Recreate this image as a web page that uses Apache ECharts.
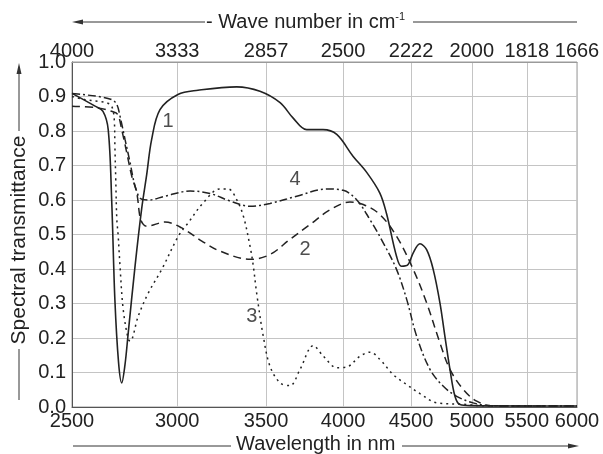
<!DOCTYPE html>
<html>
<head>
<meta charset="utf-8">
<script src="https://cdn.jsdelivr.net/npm/echarts@6/dist/echarts.min.js"></script>
<style>html,body{margin:0;padding:0;background:#fff}#c{width:603px;height:454px}</style>
</head>
<body>
<div id="c"></div>
<script>
// Tick values
const wavelengthTicks = [2500, 3000, 3500, 4000, 4500, 5000, 5500, 6000];
const wavenumberLabels = ['4000', '3333', '2857', '2500', '2222', '2000', '1818', '1666'];
const transmittanceTicks = [0, 0.1, 0.2, 0.3, 0.4, 0.5, 0.6, 0.7, 0.8, 0.9, 1.0];

// Curve 1 (solid)
const curve1Wavelength = [2500, 2602, 2638, 2662, 2678, 2693, 2710, 2725, 2740, 2756, 2789, 2821, 2846, 2870, 2912, 3004, 3110, 3326, 3463, 3586, 3667, 3755, 3863, 3956, 4069, 4167, 4263, 4313, 4388, 4426, 4477, 4517, 4570, 4623, 4676, 4731, 4772, 4814, 4856, 4898, 5000, 5500, 6000];
const curve1Transmittance = [0.909, 0.872, 0.857, 0.804, 0.60, 0.31, 0.13, 0.07, 0.12, 0.215, 0.41, 0.575, 0.675, 0.775, 0.862, 0.906, 0.918, 0.928, 0.915, 0.882, 0.838, 0.804, 0.804, 0.79, 0.727, 0.68, 0.62, 0.56, 0.437, 0.408, 0.413, 0.447, 0.473, 0.456, 0.399, 0.302, 0.205, 0.109, 0.031, 0.007, 0.004, 0.003, 0.003];

// Curve 2 (dashed)
const curve2Wavelength = [2500, 2617, 2678, 2706, 2725, 2749, 2773, 2797, 2813, 2828, 2846, 2937, 3024, 3131, 3231, 3404, 3524, 3648, 3777, 3912, 4048, 4142, 4263, 4388, 4517, 4623, 4731, 4814, 4926, 5042, 5187, 5500, 6000];
const curve2Transmittance = [0.872, 0.867, 0.857, 0.848, 0.804, 0.737, 0.669, 0.621, 0.55, 0.53, 0.524, 0.536, 0.519, 0.481, 0.452, 0.428, 0.442, 0.486, 0.529, 0.572, 0.594, 0.587, 0.558, 0.495, 0.399, 0.302, 0.186, 0.109, 0.051, 0.017, 0.003, 0.003, 0.003];

// Curve 3 (dotted)
const curve3Wavelength = [2500, 2557, 2617, 2655, 2678, 2690, 2693, 2697, 2702, 2708, 2717, 2732, 2756, 2765, 2804, 2854, 2921, 3006, 3058, 3139, 3231, 3278, 3326, 3365, 3404, 3423, 3443, 3483, 3524, 3586, 3648, 3712, 3799, 3866, 3956, 4025, 4118, 4191, 4263, 4363, 4466, 4570, 4705, 4923, 5080, 6000];
const curve3Transmittance = [0.90, 0.891, 0.886, 0.882, 0.872, 0.833, 0.756, 0.66, 0.543, 0.50, 0.408, 0.283, 0.196, 0.191, 0.263, 0.331, 0.399, 0.495, 0.534, 0.592, 0.632, 0.632, 0.601, 0.553, 0.466, 0.41, 0.331, 0.205, 0.118, 0.07, 0.062, 0.109, 0.178, 0.147, 0.114, 0.116, 0.147, 0.159, 0.138, 0.094, 0.065, 0.039, 0.012, 0.008, 0.004, 0.003];

// Curve 4 (dash-dot)
const curve4Wavelength = [2500, 2542, 2617, 2678, 2702, 2717, 2741, 2765, 2789, 2818, 2854, 2937, 3068, 3176, 3288, 3404, 3524, 3691, 3888, 4001, 4096, 4191, 4288, 4388, 4466, 4544, 4650, 4759, 4870, 5010, 5160, 5500, 6000];
const curve4Transmittance = [0.909, 0.906, 0.90, 0.891, 0.877, 0.843, 0.775, 0.708, 0.64, 0.603, 0.60, 0.611, 0.626, 0.619, 0.597, 0.582, 0.59, 0.611, 0.632, 0.628, 0.60, 0.543, 0.476, 0.399, 0.312, 0.205, 0.109, 0.06, 0.031, 0.012, 0.004, 0.003, 0.003];

// Curve number annotations
const curveNames = ['1', '2', '3', '4'];
const curveNameWavelength = [2953, 3744, 3414, 3680];
const curveNameTransmittance = [0.828, 0.457, 0.263, 0.659];

const FONT = 'Liberation Sans, Arial, Helvetica, sans-serif';
const INK = '#222';

function pairs(xs, ys) { return xs.map((x, i) => [x, ys[i]]); }

function lineSeries(name, xs, ys, type, width) {
  return {
    name: name, type: 'line', xAxisIndex: 0, yAxisIndex: 0,
    data: pairs(xs, ys), showSymbol: false, symbol: 'none', smooth: 0.35,
    lineStyle: { color: INK, width: width, type: type },
    z: 5
  };
}

const chart = echarts.init(document.getElementById('c'), null, { renderer: 'canvas' });

const arrowColor = '#333';
const option = {
  animation: false,
  backgroundColor: '#fff',
  textStyle: { fontFamily: FONT },
  grid: { left: 72, right: 26, top: 62, bottom: 47, show: true, borderColor: '#9a9a9a', borderWidth: 1, backgroundColor: 'transparent' },
  xAxis: [
    {
      type: 'log', logBase: 10, min: 2500, max: 6000, position: 'bottom',
      axisLine: { show: true, lineStyle: { color: '#555', width: 1 } },
      axisTick: { show: false, customValues: wavelengthTicks },
      axisLabel: { customValues: wavelengthTicks, color: INK, fontSize: 20, fontFamily: FONT, margin: 4,
        formatter: v => String(Math.round(v)) },
      splitLine: { show: true, lineStyle: { color: '#c4c4c4', width: 1 } },
      minorTick: { show: false }, minorSplitLine: { show: false }
    },
    {
      type: 'log', logBase: 10, min: 2500, max: 6000, position: 'top',
      axisLine: { show: true, lineStyle: { color: '#9a9a9a', width: 1 } },
      axisTick: { show: false, customValues: wavelengthTicks },
      axisLabel: { customValues: wavelengthTicks, color: INK, fontSize: 20, fontFamily: FONT, margin: 1,
        formatter: v => { const i = wavelengthTicks.findIndex(t => Math.abs(t - v) < 1); return i >= 0 ? wavenumberLabels[i] : ''; } },
      splitLine: { show: false }
    }
  ],
  yAxis: [
    {
      type: 'value', min: 0, max: 1, interval: 0.1,
      axisLine: { show: true, lineStyle: { color: '#555', width: 1 } },
      axisTick: { show: false },
      axisLabel: { color: INK, fontSize: 20, fontFamily: FONT, margin: 6, formatter: v => v.toFixed(1) },
      splitLine: { show: true, lineStyle: { color: '#c4c4c4', width: 1 } }
    }
  ],
  series: [
    lineSeries('1', curve1Wavelength, curve1Transmittance, 'solid', 1.6),
    lineSeries('2', curve2Wavelength, curve2Transmittance, [8, 5], 1.5),
    lineSeries('3', curve3Wavelength, curve3Transmittance, [2, 4], 1.5),
    lineSeries('4', curve4Wavelength, curve4Transmittance, [8, 3, 2, 3], 1.5),
    {
      type: 'scatter', xAxisIndex: 0, yAxisIndex: 0, symbolSize: 0, z: 6,
      data: curveNames.map((n, i) => ({ value: [curveNameWavelength[i], curveNameTransmittance[i]], name: n })),
      label: { show: true, position: 'inside', formatter: p => p.name, color: INK, fontSize: 20, fontFamily: FONT },
      silent: true
    }
  ],
  graphic: [
    // top title
    { type: 'line', shape: { x1: 80, y1: 22, x2: 205, y2: 22 }, style: { stroke: arrowColor, lineWidth: 1 } },
    { type: 'polygon', shape: { points: [[72, 22], [83, 19.5], [83, 24.5]] }, style: { fill: arrowColor } },
    { type: 'text', left: 206, top: 11, style: {
        text: '- Wave number in cm{s|-1}', fill: INK, font: '20px ' + FONT,
        rich: { s: { fontSize: 11, verticalAlign: 'top', fill: INK, padding: [0, 0, 12, 0] } } } },
    { type: 'line', shape: { x1: 413, y1: 22, x2: 577, y2: 22 }, style: { stroke: arrowColor, lineWidth: 1 } },
    // bottom title
    { type: 'line', shape: { x1: 73, y1: 446, x2: 231, y2: 446 }, style: { stroke: arrowColor, lineWidth: 1 } },
    { type: 'text', left: 236, top: 434, style: { text: 'Wavelength in nm', fill: INK, font: '20px ' + FONT } },
    { type: 'line', shape: { x1: 402, y1: 446, x2: 570, y2: 446 }, style: { stroke: arrowColor, lineWidth: 1 } },
    { type: 'polygon', shape: { points: [[579, 446], [568, 443.5], [568, 448.5]] }, style: { fill: arrowColor } },
    // left title
    { type: 'line', shape: { x1: 19, y1: 72, x2: 19, y2: 131 }, style: { stroke: arrowColor, lineWidth: 1 } },
    { type: 'polygon', shape: { points: [[19, 63], [16.5, 74], [21.5, 74]] }, style: { fill: arrowColor } },
    { type: 'text', x: 19, y: 240, rotation: Math.PI / 2, style: { text: 'Spectral transmittance', fill: INK, font: '21px ' + FONT, align: 'center', verticalAlign: 'middle' } },
    { type: 'line', shape: { x1: 19, y1: 349, x2: 19, y2: 400 }, style: { stroke: arrowColor, lineWidth: 1 } }
  ]
};
chart.setOption(option);
</script>
</body>
</html>
